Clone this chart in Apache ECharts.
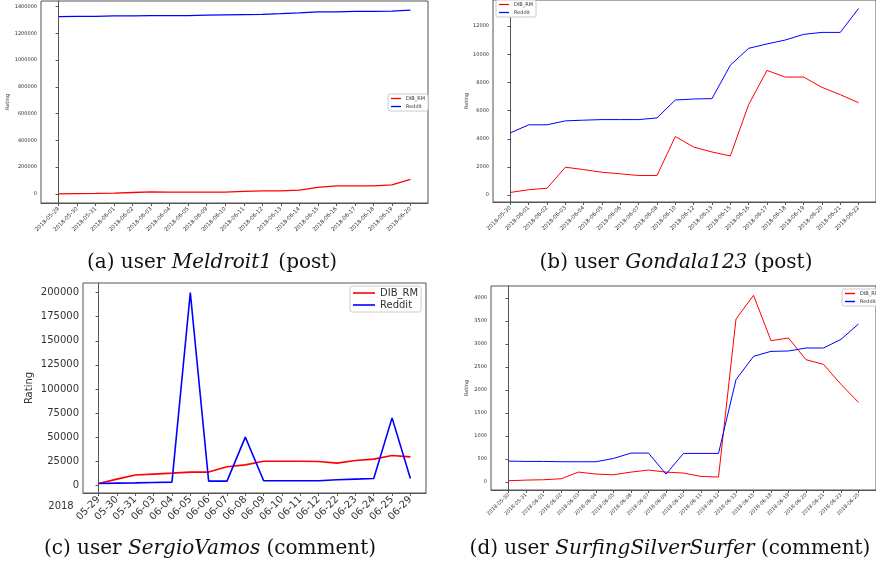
<!DOCTYPE html>
<html>
<head>
<meta charset="utf-8">
<script src="https://cdn.jsdelivr.net/npm/echarts@6/dist/echarts.min.js"></script>
<style>
  html, body { margin: 0; padding: 0; background: #fff; }
  #main { width: 876px; height: 569px; }
</style>
</head>
<body>
<div id="main"></div>
<script>
// (a) Meldroit1 (post)
var catsA = ['2018-05-29','2018-05-30','2018-05-31','2018-06-01','2018-06-02','2018-06-03','2018-06-04','2018-06-05','2018-06-09','2018-06-10',
             '2018-06-11','2018-06-12','2018-06-13','2018-06-14','2018-06-15','2018-06-16','2018-06-17','2018-06-18','2018-06-19','2018-06-20'];
var dibA = [0, 2000, 3000, 5000, 10000, 14000, 13000, 12000, 12000, 12000, 18000, 22000, 22000, 28000, 48000, 60000, 60000, 60000, 67000, 108000];
var redA = [1325000, 1326000, 1327000, 1330000, 1331000, 1332000, 1332000, 1333000, 1336000, 1338000,
            1340000, 1342000, 1347000, 1353000, 1360000, 1361000, 1364000, 1364000, 1366000, 1373000];
var ticksA = [0, 200000, 400000, 600000, 800000, 1000000, 1200000, 1400000];

// (b) Gondala123 (post)
var catsB = ['2018-05-30','2018-06-01','2018-06-02','2018-06-03','2018-06-04','2018-06-05','2018-06-06','2018-06-07','2018-06-08','2018-06-10',
             '2018-06-12','2018-06-13','2018-06-15','2018-06-16','2018-06-17','2018-06-18','2018-06-19','2018-06-20','2018-06-21','2018-06-22'];
var dibB = [190, 380, 490, 1980, 1810, 1620, 1510, 1390, 1390, 4160, 3410, 3060, 2780, 6420, 8850, 8380, 8380, 7650, 7130, 6560];
var redB = [4420, 4990, 4990, 5270, 5320, 5360, 5360, 5360, 5480, 6750, 6820, 6850, 9220, 10420, 10730, 11010, 11410, 11550, 11550, 13250];
var ticksB = [0, 2000, 4000, 6000, 8000, 10000, 12000];

// (c) SergioVamos (comment)
var catsC = ['05-29','05-30','05-31','06-03','06-04','06-05','06-06','06-07','06-08','06-09','06-10','06-11','06-12','06-22','06-23','06-24','06-25','06-29'];
var dibC = [2000, 6500, 10700, 11700, 12700, 13800, 13800, 19300, 21300, 25100, 25100, 25100, 24800, 23100, 25800, 27200, 31000, 29600];
var redC = [2000, 2300, 2600, 3000, 3400, 200000, 4400, 4400, 50000, 4800, 4800, 4800, 4800, 5800, 6500, 7200, 70000, 7200];
var ticksC = [0, 25000, 50000, 75000, 100000, 125000, 150000, 175000, 200000];

// (d) SurfingSilverSurfer (comment)
var catsD = ['2018-05-30','2018-05-31','2018-06-01','2018-06-02','2018-06-03','2018-06-04','2018-06-05','2018-06-06','2018-06-07','2018-06-09','2018-06-10',
             '2018-06-11','2018-06-12','2018-06-13','2018-06-15','2018-06-18','2018-06-19','2018-06-20','2018-06-21','2018-06-23','2018-06-25'];
var dibD = [29, 43, 51, 72, 217, 174, 159, 217, 261, 217, 196, 123, 109, 3543, 4058, 3072, 3130, 2659, 2558, 2123, 1732];
var redD = [456, 449, 449, 442, 442, 442, 514, 630, 630, 174, 623, 623, 623, 2225, 2732, 2840, 2848, 2913, 2913, 3101, 3435];
var ticksD = [0, 500, 1000, 1500, 2000, 2500, 3000, 3500, 4000];

var chart = echarts.init(document.getElementById('main'));
var FONT = 'DejaVu Sans';
var AX = '#555';

function pairs(arr) {
    return arr.map(function (v, i) { return [i, v]; });
}
function idxList(cats) {
    return cats.map(function (c, i) { return i; });
}

function xAx(gi, cats, pad, fs, margin) {
    var idx = idxList(cats);
    return {
        type: 'value', gridIndex: gi,
        min: -pad, max: cats.length - 1 + pad,
        splitLine: { show: false },
        axisLine: { show: true, onZero: false, lineStyle: { color: AX } },
        axisTick: { show: true, length: 3, customValues: idx, lineStyle: { color: AX } },
        axisLabel: {
            customValues: idx, rotate: 45, fontSize: fs, fontFamily: FONT, color: '#333', margin: margin,
            formatter: function (v) { return cats[Math.round(v)]; }
        }
    };
}
function yAx(gi, ticks, mn, mx, fs, gap, nameFs) {
    return {
        type: 'value', gridIndex: gi, min: mn, max: mx,
        name: 'Rating', nameLocation: 'middle', nameRotate: 90, nameGap: gap,
        nameTextStyle: { fontSize: nameFs, fontFamily: FONT, color: '#333' },
        splitLine: { show: false },
        axisLine: { show: true, lineStyle: { color: AX } },
        axisTick: { show: true, length: 3, customValues: ticks, lineStyle: { color: AX } },
        axisLabel: {
            customValues: ticks, fontSize: fs, fontFamily: FONT, color: '#333', margin: 4,
            formatter: function (v) { return String(v); }
        }
    };
}
function line(name, gi, data, color, w) {
    return {
        name: name, type: 'line', xAxisIndex: gi, yAxisIndex: gi,
        data: pairs(data), symbol: 'none', animation: false,
        lineStyle: { color: color, width: w }, itemStyle: { color: color }
    };
}
function legend(left, top, fs, iw, ih, gap) {
    return {
        orient: 'vertical', left: left, top: top, data: ['DIB_RM', 'Reddit'],
        icon: 'rect', itemWidth: iw, itemHeight: ih, itemGap: gap, padding: [2, 3, 2, 3],
        borderColor: '#ccc', borderWidth: 1, borderRadius: 2, backgroundColor: '#fff',
        textStyle: { fontSize: fs, fontFamily: FONT, color: '#333' }
    };
}
function caption(x, y, pre, name, post) {
    return {
        type: 'text', x: x, y: y,
        style: {
            text: '{n|' + pre + '}{i|' + name + '}{n|' + post + '}',
            align: 'center', verticalAlign: 'middle',
            rich: {
                n: { fontFamily: 'DejaVu Serif', fontSize: 20, fill: '#111' },
                i: { fontFamily: 'DejaVu Serif', fontStyle: 'italic', fontSize: 20, fill: '#111' }
            }
        }
    };
}

var gridStyle = { show: true, borderColor: AX, borderWidth: 1, backgroundColor: '#fff', containLabel: false };

var option = {
    backgroundColor: '#fff',
    animation: false,
    grid: [
        Object.assign({ left: 41, top: 1, width: 387, height: 202 }, gridStyle),
        Object.assign({ left: 493, top: -1, width: 392, height: 203 }, gridStyle),
        Object.assign({ left: 83, top: 283, width: 343, height: 210 }, gridStyle),
        Object.assign({ left: 491, top: 286, width: 393, height: 204 }, gridStyle)
    ],
    xAxis: [
        xAx(0, catsA, 0.95, 5.5, 5),
        xAx(1, catsB, 0.95, 5.5, 5),
        xAx(2, catsC, 0.85, 10, 5),
        xAx(3, catsD, 1, 5, 4)
    ],
    yAxis: [
        yAx(0, ticksA, -68650, 1441650, 5, 31, 5),
        yAx(1, ticksB, -490, 13850, 5, 24, 5),
        yAx(2, ticksC, -7900, 209900, 10, 49, 10),
        yAx(3, ticksD, -172, 4260, 5, 22, 5)
    ],
    legend: [
        legend(388, 94, 5, 10, 1.3, 3),
        legend(496, 0, 5, 10, 1.2, 3),
        legend(350, 286, 10, 22, 1.6, 2),
        legend(842, 289, 5, 10, 1.4, 3)
    ],
    series: [
        line('DIB_RM', 0, dibA, '#ff0000', 1.3),
        line('Reddit', 0, redA, '#0000ff', 1.3),
        line('DIB_RM', 1, dibB, '#ff0000', 1),
        line('Reddit', 1, redB, '#0000ff', 1),
        line('DIB_RM', 2, dibC, '#ff0000', 1.6),
        line('Reddit', 2, redC, '#0000ff', 1.6),
        line('DIB_RM', 3, dibD, '#ff0000', 1),
        line('Reddit', 3, redD, '#0000ff', 1)
    ],
    graphic: [
        { type: 'text', x: 61, y: 506, style: { text: '2018', fontSize: 10, fontFamily: FONT, fill: '#333', align: 'center', verticalAlign: 'middle' } },
        caption(212, 263, '(a) user ', 'Meldroit1', ' (post)'),
        caption(676, 263, '(b) user ', 'Gondala123', ' (post)'),
        caption(210, 549, '(c) user ', 'SergioVamos', ' (comment)'),
        caption(670, 549, '(d) user ', 'SurfingSilverSurfer', ' (comment)')
    ]
};
chart.setOption(option);
</script>
</body>
</html>
